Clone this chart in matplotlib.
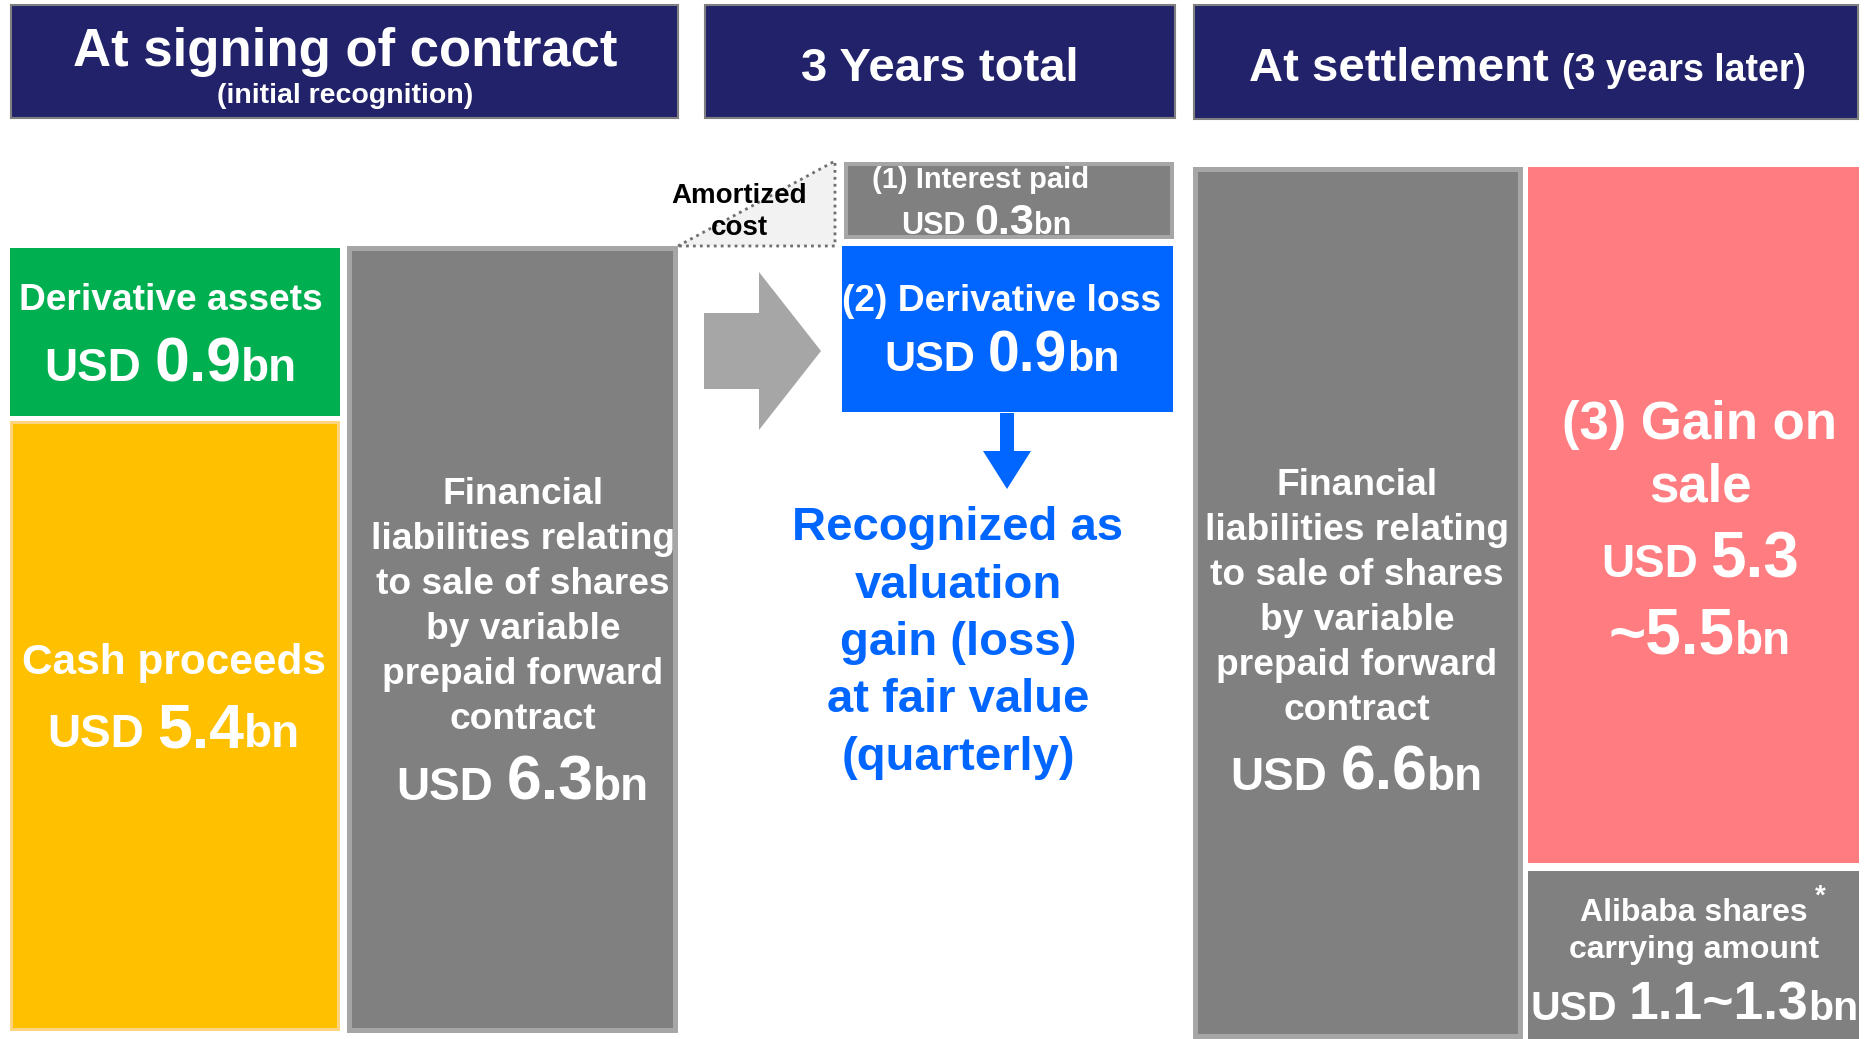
import matplotlib
matplotlib.use("Agg")
import matplotlib.pyplot as plt
from matplotlib.patches import Rectangle, Polygon
from matplotlib import font_manager

# text content / values (USD bn)
headers = ["At signing of contract", "3 Years total", "At settlement"]
header_notes = ["(initial recognition)", "", "(3 years later)"]
liability_lines = ["Financial", "liabilities relating", "to sale of shares",
                   "by variable", "prepaid forward", "contract"]
derivative_assets = "0.9"
cash_proceeds = "5.4"
liability_initial = "6.3"
interest_paid = "0.3"
derivative_loss = "0.9"
liability_settle = "6.6"
gain_range = ["5.3", "5.5"]
alibaba_range = ["1.1", "1.3"]
fair_value_lines = ["Recognized as", "valuation", "gain (loss)", "at fair value", "(quarterly)"]

NAVY = "#22226A"
GREEN = "#00B050"
YELLOW = "#FFC000"
GREY = "#808080"
LGREY = "#A6A6A6"
BLUE = "#0066FF"
PINK = "#FF7C80"

names = {f.name for f in font_manager.fontManager.ttflist}
if "Liberation Sans Narrow" in names:
    FONT, W = "Liberation Sans Narrow", 0.82
else:
    FONT, W = "Liberation Sans", 1.0


def fs(pt):
    return pt / W


fig = plt.figure(figsize=(18.71, 10.39), dpi=100)
ax = fig.add_axes([0, 0, 1, 1])
ax.set_xlim(0, 1871)
ax.set_ylim(1039, 0)
ax.axis("off")
renderer = fig.canvas.get_renderer()


def box(x0, x1, y0, y1, color, edge=None, inset=0, ec=None, lw=0):
    if edge is not None:
        ax.add_patch(Rectangle((x0, y0), x1 - x0, y1 - y0, fc=edge, ec="none"))
        ax.add_patch(Rectangle((x0 + inset, y0 + inset), x1 - x0 - 2 * inset,
                               y1 - y0 - 2 * inset, fc=color, ec="none"))
    else:
        ax.add_patch(Rectangle((x0, y0), x1 - x0, y1 - y0, fc=color,
                               ec=ec if ec else "none", lw=lw))


def txt(x, y, s, size, color="white", ha="center"):
    return ax.text(x, y, s, fontsize=fs(size), color=color, ha=ha, va="baseline",
                   fontfamily=FONT, fontweight="bold")


def mixed(x, y, parts, color="white"):
    # parts: (text, size, gap_after_in_em)
    items = []
    for s, size, gap in parts:
        t = txt(0, y, s, size, color, ha="left")
        w = t.get_window_extent(renderer).width
        items.append((t, w + gap * fs(size) * 100 / 72 * W))
    total = sum(w for _, w in items)
    cur = x - total / 2
    for t, w in items:
        t.set_x(cur)
        cur += w


# header bars
box(11, 678, 5, 118, NAVY, ec="#7F7F7F", lw=1.5)
box(705, 1175, 5, 118, NAVY, ec="#7F7F7F", lw=1.5)
box(1194, 1858, 5, 119, NAVY, ec="#7F7F7F", lw=1.5)
txt(345, 66, headers[0], 38)
txt(345, 103, header_notes[0], 20.5)
txt(940, 81, headers[1], 34)
txt(1549, 81, headers[2], 34, ha="right")
txt(1562, 81, header_notes[2], 27, ha="left")

# column 1
box(10, 340, 248, 416, GREEN)
box(10, 340, 421, 1031, YELLOW, edge="#FFD480", inset=3)
txt(171, 310, "Derivative assets", 26.7)
mixed(171, 381, [("USD", 33, 0.28), (derivative_assets, 45, 0), ("bn", 33, 0)])
txt(174, 674, "Cash proceeds", 30.5)
mixed(174, 747, [("USD", 33, 0.28), (cash_proceeds, 45, 0), ("bn", 33, 0)])

# column 2
box(347, 678, 246, 1033, GREY, edge=LGREY, inset=5)
for i, line in enumerate(liability_lines):
    txt(523, 504 + 45 * i, line, 26.7)
mixed(523, 800, [("USD", 33, 0.28), (liability_initial, 45, 0), ("bn", 33, 0)])

# amortized cost triangle
ax.add_patch(Polygon([(678, 246), (835, 161), (835, 246)], closed=True,
                     fc="#F2F2F2", ec="#6F6F6F", ls=(0, (1, 1.5)), lw=2))
txt(739, 203, "Amortized", 20, color="black")
txt(739, 235, "cost", 20, color="black")

# right arrow
ax.add_patch(Polygon([(704, 313), (759, 313), (759, 272), (821, 351),
                      (759, 430), (759, 389), (704, 389)], closed=True,
                     fc=LGREY, ec="none"))

# 3 years column
box(844, 1174, 162, 239, GREY, edge=LGREY, inset=4)
txt(981, 188, "(1) Interest paid", 21)
mixed(986, 234, [("USD", 22, 0.28), (interest_paid, 31, 0), ("bn", 22, 0)])
box(842, 1173, 246, 412, BLUE)
txt(1002, 311, "(2) Derivative loss", 26.8)
mixed(1002, 371, [("USD", 31, 0.28), (derivative_loss, 41, 0), ("bn", 31, 0)])
ax.add_patch(Polygon([(1000, 413), (1014, 413), (1014, 451), (1031, 451),
                      (1007, 489), (983, 451), (1000, 451)], closed=True,
                     fc=BLUE, ec="none"))
for i, line in enumerate(fair_value_lines):
    txt(958, 540 + 57.5 * i, line, 34, color=BLUE)

# settlement columns
box(1193, 1523, 167, 1039, GREY, edge=LGREY, inset=5)
for i, line in enumerate(liability_lines):
    txt(1357, 495 + 45 * i, line, 26.7)
mixed(1357, 790, [("USD", 33, 0.28), (liability_settle, 45, 0), ("bn", 33, 0)])

box(1528, 1859, 167, 863, PINK)
txt(1700, 439, "(3) Gain on", 38)
txt(1700, 501, "sale", 38)
mixed(1700, 577, [("USD", 33, 0.28), (gain_range[0], 46, 0)])
mixed(1700, 654, [("~" + gain_range[1], 46, 0), ("bn", 33, 0)])

box(1528, 1859, 871, 1039, GREY)
txt(1694, 921, "Alibaba shares", 23)
txt(1815, 904, "*", 20, ha="left")
txt(1694, 958, "carrying amount", 23)
mixed(1694, 1020, [("USD", 29.5, 0.28),
                   (alibaba_range[0] + "~" + alibaba_range[1], 38.5, 0),
                   ("bn", 29.5, 0)])

fig.savefig("out.png", dpi=100)
